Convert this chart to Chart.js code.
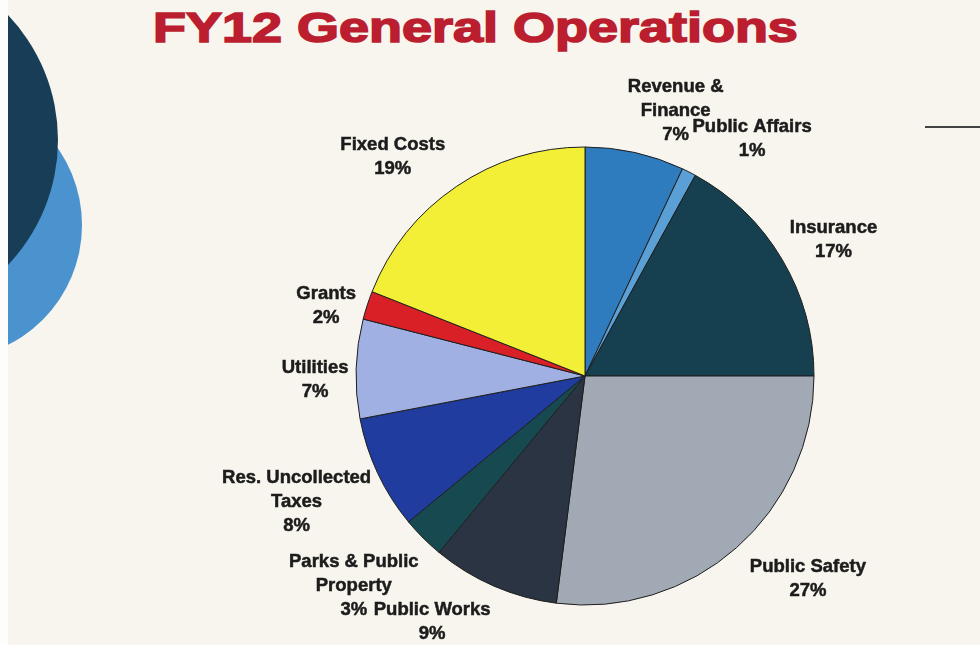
<!DOCTYPE html>
<html>
<head>
<meta charset="utf-8">
<script src="https://cdn.jsdelivr.net/npm/chart.js@4/dist/chart.umd.min.js"></script>
<style>
  body { margin: 0; background: #f8f5ee; }
  #wrap { position: relative; width: 980px; height: 645px; overflow: hidden; background: #f8f5ee; }
  #edge { position: absolute; left: 0; top: 0; width: 8px; height: 645px; background: #fdfdfb; }
  #deco { position: absolute; left: 8px; top: 0; width: 120px; height: 645px; overflow: hidden; }
  .ball { position: absolute; border-radius: 50%; }
  #rule { position: absolute; left: 925px; top: 126px; width: 55px; height: 2px; background: #444; }
  #title {
    position: absolute; left: 153px; top: 0; margin: 0;
    font: bold 42px "Liberation Sans", Arial, sans-serif; color: #bb1f2f;
    -webkit-text-stroke: 1.6px #bb1f2f;
    line-height: 56px; white-space: nowrap;
    transform: scaleX(1.285); transform-origin: left top;
  }
  canvas { position: absolute; left: 0; top: 0; }
</style>
</head>
<body>
<div id="wrap">
  <div id="edge"></div>
  <div id="deco">
    <div class="ball" style="left:-194px; top:91px; width:268px; height:268px; background:#4b93cf;"></div>
    <div class="ball" style="left:-312px; top:-41px; width:362px; height:362px; background:#173d57;"></div>
  </div>
  <div id="rule"></div>
  <h1 id="title">FY12 General Operations</h1>
  <canvas id="myChart" width="980" height="645"></canvas>
</div>
<script>
// slices, clockwise from 12 o'clock
const categories = [
  ['Revenue &', 'Finance'],
  ['Public Affairs'],
  ['Insurance'],
  ['Public Safety'],
  ['Public Works'],
  ['Parks & Public', 'Property'],
  ['Res. Uncollected', 'Taxes'],
  ['Utilities'],
  ['Grants'],
  ['Fixed Costs']
];
const percents = [7, 1, 17, 27, 9, 3, 8, 7, 2, 19];
const sliceColors = ['#2e7bbd', '#5a9fd6', '#16404f', '#a1a9b4', '#2b3442',
                     '#164a50', '#1f3c9e', '#a0b0e2', '#d92027', '#f3ef36'];

// label nudges away from the radial anchor (px)
const labelNudge = [[32, -3], [45, 3], [17, 1], [45, 1], [-46, -1],
                    [-41, 20], [-45, 11], [-1, 12], [-3, 13], [-41, 3]];

const sliceLabels = {
  id: 'sliceLabels',
  afterDatasetsDraw(chart) {
    const ctx = chart.ctx;
    const meta = chart.getDatasetMeta(0);
    ctx.save();
    ctx.font = 'bold 18.5px "Liberation Sans", Arial, sans-serif';
    ctx.fillStyle = '#1c1c1c';
    ctx.strokeStyle = '#1c1c1c';
    ctx.lineWidth = 0.5;
    ctx.textAlign = 'center';
    ctx.textBaseline = 'middle';
    meta.data.forEach((arc, i) => {
      const p = arc.getProps(['x', 'y', 'startAngle', 'endAngle', 'outerRadius'], true);
      const mid = (p.startAngle + p.endAngle) / 2;
      const r = p.outerRadius + 40;
      const cx = p.x + Math.cos(mid) * r + labelNudge[i][0];
      const cy = p.y + Math.sin(mid) * r + labelNudge[i][1];
      const lines = [...categories[i], percents[i] + '%'];
      lines.forEach((line, j) => {
        const ly = cy + (j - (lines.length - 1) / 2) * 24;
        ctx.fillText(line, cx, ly);
        ctx.strokeText(line, cx, ly);
      });
    });
    ctx.restore();
  }
};

new Chart('myChart', {
  type: 'pie',
  data: {
    labels: categories.map(c => c.join(' ')),
    datasets: [{
      data: percents,
      backgroundColor: sliceColors,
      borderColor: '#1e1e1e',
      borderWidth: 1,
      radius: 229
    }]
  },
  options: {
    responsive: false,
    animation: false,
    devicePixelRatio: 1,
    layout: { padding: { left: 356, right: 166, top: 147, bottom: 40 } },
    plugins: {
      legend: { display: false },
      tooltip: { enabled: false }
    }
  },
  plugins: [sliceLabels]
});
</script>
</body>
</html>
